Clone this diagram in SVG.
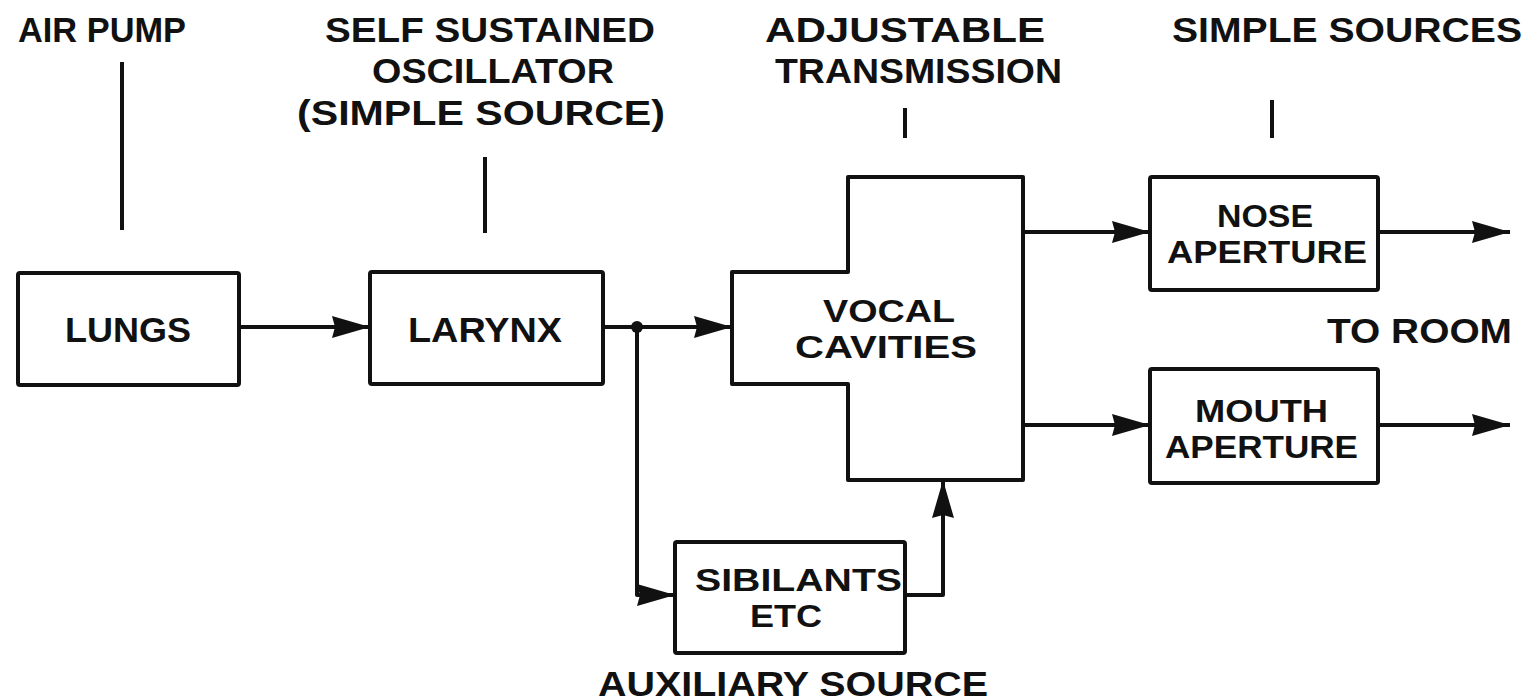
<svg xmlns="http://www.w3.org/2000/svg" width="1538" height="700" viewBox="0 0 1538 700">
<style>
.box{fill:#fff;stroke:#111;stroke-width:4;stroke-linejoin:round}
.ln{fill:none;stroke:#111;stroke-width:4;stroke-linejoin:round}
.arr{fill:none;stroke:#111;stroke-width:4;stroke-linejoin:round;marker-end:url(#ah)}
text{font-family:"Liberation Sans",Arial,sans-serif;font-weight:bold;font-size:35px;fill:#111}
text.s{font-size:32px}
</style>
<defs>
<marker id="ah" markerUnits="userSpaceOnUse" markerWidth="40" markerHeight="24" refX="38" refY="11" orient="auto">
<path d="M0,0 L38,11 L0,22 L3,11 Z" fill="#111"/>
</marker>
</defs>
<rect width="1538" height="700" fill="#fff"/>
<g id="labels">
<text x="18" y="42" textLength="168" lengthAdjust="spacingAndGlyphs">AIR PUMP</text>
<text x="325" y="42" textLength="330" lengthAdjust="spacingAndGlyphs">SELF SUSTAINED</text>
<text x="372" y="83" textLength="242" lengthAdjust="spacingAndGlyphs">OSCILLATOR</text>
<text x="297" y="125" textLength="368" lengthAdjust="spacingAndGlyphs">(SIMPLE SOURCE)</text>
<text x="765" y="42" textLength="280" lengthAdjust="spacingAndGlyphs">ADJUSTABLE</text>
<text x="775" y="83" textLength="287" lengthAdjust="spacingAndGlyphs">TRANSMISSION</text>
<text x="1172" y="42" textLength="350" lengthAdjust="spacingAndGlyphs">SIMPLE SOURCES</text>
<text x="1327" y="343" textLength="185" lengthAdjust="spacingAndGlyphs">TO ROOM</text>
<text x="598" y="696" textLength="390" lengthAdjust="spacingAndGlyphs">AUXILIARY SOURCE</text>
<path class="ln" d="M122,62 V230 M485,157 V233 M905,108 V138 M1272,100 V138"/>
</g>
<g id="lungs">
<rect class="box" x="18" y="273" width="221" height="112" rx="2"/>
<text x="65" y="342" textLength="126" lengthAdjust="spacingAndGlyphs">LUNGS</text>
</g>
<g id="larynx">
<rect class="box" x="370" y="272" width="233" height="112" rx="2"/>
<text x="408" y="342" textLength="154" lengthAdjust="spacingAndGlyphs">LARYNX</text>
</g>
<g id="vocal">
<path class="box" d="M848,177 H1023 V480 H848 V384 H732 V272 H848 Z"/>
<text class="s" x="823" y="322" textLength="132" lengthAdjust="spacingAndGlyphs">VOCAL</text>
<text class="s" x="795" y="358" textLength="182" lengthAdjust="spacingAndGlyphs">CAVITIES</text>
</g>
<g id="sibilants">
<rect class="box" x="675" y="542" width="230" height="111" rx="2"/>
<text class="s" x="695" y="591" textLength="207" lengthAdjust="spacingAndGlyphs">SIBILANTS</text>
<text class="s" x="750" y="627" textLength="72" lengthAdjust="spacingAndGlyphs">ETC</text>
</g>
<g id="nose">
<rect class="box" x="1150" y="177" width="228" height="113" rx="2"/>
<text class="s" x="1217" y="227" textLength="96" lengthAdjust="spacingAndGlyphs">NOSE</text>
<text class="s" x="1167" y="263" textLength="200" lengthAdjust="spacingAndGlyphs">APERTURE</text>
</g>
<g id="mouth">
<rect class="box" x="1150" y="369" width="228" height="114" rx="2"/>
<text class="s" x="1195" y="422" textLength="133" lengthAdjust="spacingAndGlyphs">MOUTH</text>
<text class="s" x="1165" y="458" textLength="193" lengthAdjust="spacingAndGlyphs">APERTURE</text>
</g>
<g id="connectors">
<path class="arr" d="M239,327 H370"/>
<path class="arr" d="M603,327 H732"/>
<circle cx="637" cy="327" r="6" fill="#111"/>
<path class="arr" d="M637,327 V595 H675"/>
<path class="arr" d="M905,595 H943 V480"/>
<path class="arr" d="M1023,232 H1150"/>
<path class="arr" d="M1023,425 H1150"/>
<path class="arr" d="M1378,232 H1510"/>
<path class="arr" d="M1378,425 H1510"/>
</g>
</svg>
